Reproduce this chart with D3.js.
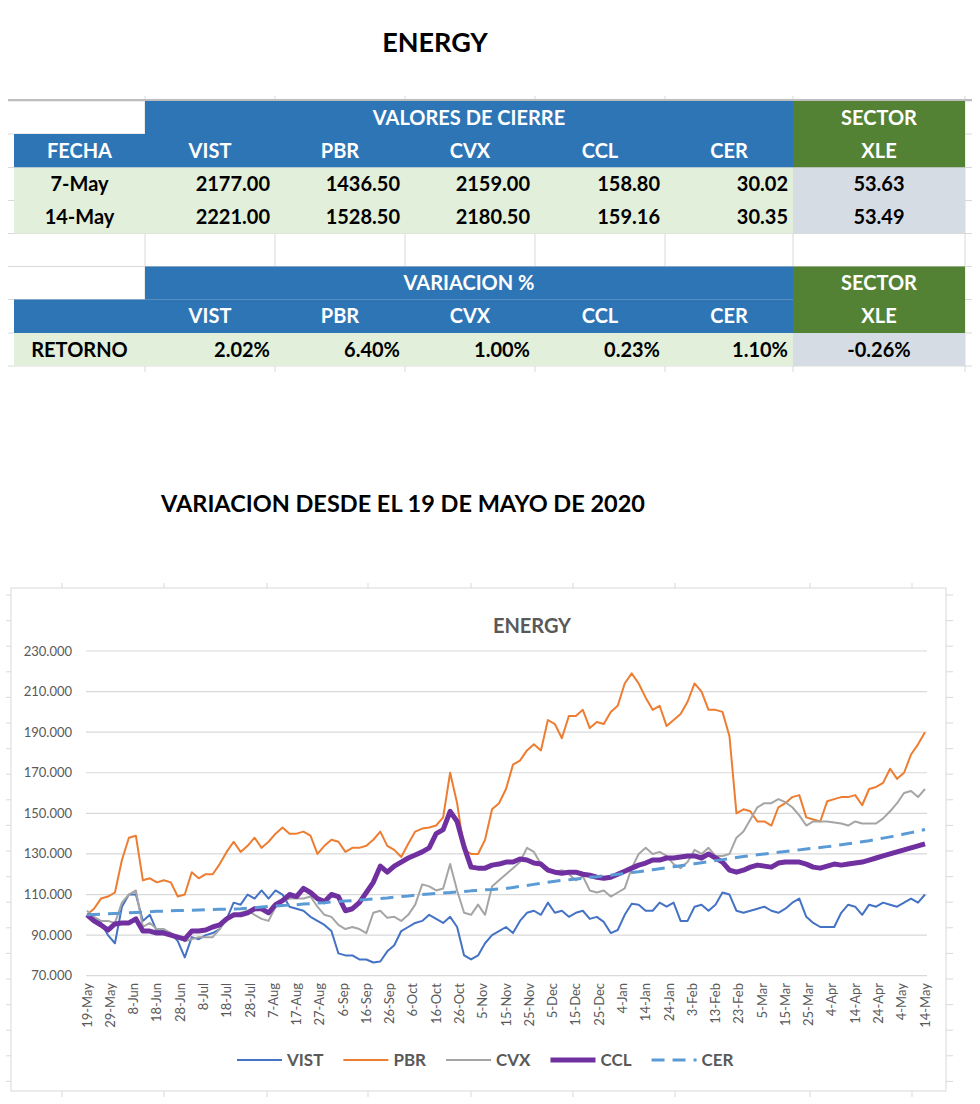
<!DOCTYPE html>
<html><head><meta charset="utf-8">
<script src="https://cdn.jsdelivr.net/npm/d3@7"></script>
<style>body{margin:0;background:#fff} svg{display:block;font-family:Lato,"Open Sans",sans-serif}</style>
</head><body><svg id="c" width="980" height="1104"></svg>
<script>
// ---------- TABLE DATA ----------
const tickers = ["VIST","PBR","CVX","CCL","CER"];
const fechas = ["7-May","14-May"];
const cierre7 = [2177.00,1436.50,2159.00,158.80,30.02];
const cierre14 = [2221.00,1528.50,2180.50,159.16,30.35];
const xleCierre = [53.63,53.49];
const retornos = [2.02,6.40,1.00,0.23,1.10];
const xleRetorno = -0.26;

// ---------- CHART DATA ----------
const dates = [
"2020-05-19","2020-05-22","2020-05-25","2020-05-28","2020-05-31",
"2020-06-03","2020-06-06","2020-06-09","2020-06-12","2020-06-15","2020-06-18","2020-06-21","2020-06-24","2020-06-27","2020-06-30",
"2020-07-03","2020-07-06","2020-07-09","2020-07-12","2020-07-15","2020-07-18","2020-07-21","2020-07-24","2020-07-27","2020-07-30",
"2020-08-02","2020-08-05","2020-08-08","2020-08-11","2020-08-14","2020-08-17","2020-08-20","2020-08-23","2020-08-26","2020-08-29",
"2020-09-01","2020-09-04","2020-09-07","2020-09-10","2020-09-13","2020-09-16","2020-09-19","2020-09-22","2020-09-25","2020-09-28",
"2020-10-01","2020-10-04","2020-10-07","2020-10-10","2020-10-13","2020-10-16","2020-10-19","2020-10-22","2020-10-25","2020-10-28","2020-10-31",
"2020-11-03","2020-11-06","2020-11-09","2020-11-12","2020-11-15","2020-11-18","2020-11-21","2020-11-24","2020-11-27","2020-11-30",
"2020-12-03","2020-12-06","2020-12-09","2020-12-12","2020-12-15","2020-12-18","2020-12-21","2020-12-24","2020-12-27","2020-12-30",
"2021-01-02","2021-01-05","2021-01-08","2021-01-11","2021-01-14","2021-01-17","2021-01-20","2021-01-23","2021-01-26","2021-01-29",
"2021-02-01","2021-02-04","2021-02-07","2021-02-10","2021-02-13","2021-02-16","2021-02-19","2021-02-22","2021-02-25","2021-02-28",
"2021-03-03","2021-03-06","2021-03-09","2021-03-12","2021-03-15","2021-03-18","2021-03-21","2021-03-24","2021-03-27","2021-03-30",
"2021-04-02","2021-04-05","2021-04-08","2021-04-11","2021-04-14","2021-04-17","2021-04-20","2021-04-23","2021-04-26","2021-04-29",
"2021-05-02","2021-05-05","2021-05-08","2021-05-11","2021-05-14"];

const vist = [
100,98,96,90,86,104,110,110,97,100,92,92,91,87,79,89,88,90,91,93,98,106,105,110,108,
112,108,112,110,104,103,102,99,97,95,92,81,80,80,78,78,76.5,77,82,85,92,94,96,97,
100,98,96,99,94,80,78,80,86,90,92,94,91,97,101,102,100,106,101,102,99,101,102,98,
99,96.5,91,92.5,100,105.5,105,102,102,106,104,106,97,97,104,105,102,105,111,110,102,101,102,103,
104,102,101,103,106,108,99,96,94,94,94,101,105,104,100,105,104,106,105,104,106,108,106,110];

const pbr = [
100,103,108,109,111,127,138,139,117,118,116,117,116,109,110,121,118,120,120,125,131,136,131,134,138,
133,136,140,143,140,140,141,139,130,134,137,136,131,133,133,134,137,141,134,132,128.5,135,141,142.5,
143,144,148,170,155,132,130,130,137,152,155,162,174,176,181,184,181,196,194,187,198,198,201,192,
195,194,200,203,214,219,214,207,201,203,193,196,199,205,214,210,201,201,200,188,150,152,151,146,
146,144,153,155,158,159,148,147,146,156,157,158,158,159,154,162,163,165,172,167,170,179,184,190];

const cvx = [
102,99,97,97,96,106,110,112,94,96,93,93,91,89,87,88,89,89,89,93,98,99,101,102,100,
98,97,104,106.5,108,108,108,109,104,100,99,95,93,94,93,91,101,102,98.5,99,97,100,105,115,
114,112,113,125,112,101,100,105,100,114,117,120,123,126,133,131,125,123,121,122,120,117,119,112,
111,112,109,111,113,123,130,133,130,131,129,125,123,126,132,130,133,129,129,130,138,141,147,153,
155,155,157,155.5,153,149,144,146,146,146,145.5,145,144,146,145,145,145,147.5,151,155,160,161,158,162];

const ccl = [
100,97,95,92.5,95.5,96,96,98,92,92,91,91,90,89,88,92,92,92.5,94,95,98,100,100,101,103,
103,101,105,107,110,109,113,111,108,106.5,110,109,102,103,106,111,116,124,121,124,126,128,129.5,131,
133,140,142,151,146,133.5,123.5,123,123,124.5,125,126,126,127.5,127,125.5,125,122,121,120.5,121,121,120,119.5,
118.5,118,118.5,120,121.5,123,124.5,125.5,127,127,128,128,128.5,129,129,128,130,128,126,122,121,122,123.5,124.5,
124,123.5,125.5,126,126,126,125,123.5,123,124,125,124.5,125,125.5,126,127,128,129,130,131,132,133,134,135];

const cer = [
100,100.2,100.3,100.5,100.7,100.8,101,101.2,101.3,101.5,101.7,101.8,102,102.1,102.2,102.3,102.4,102.5,102.6,102.7,102.8,102.9,103,103.2,103.5,
103.8,104.1,104.4,104.6,104.8,105,105.3,105.5,105.8,106,106.3,106.5,106.8,107,107.3,107.5,107.8,108,108.3,108.7,109,109.3,109.7,110,
110.3,110.5,110.8,111,111.3,111.5,111.8,112,112.3,112.5,112.8,113,113.5,114,114.5,115,115.5,116,116.5,117,117.3,117.7,118,118.5,
118.8,119.2,119.5,120,120.3,120.8,121.2,121.7,122.2,122.7,123.2,123.7,124.2,124.7,125.2,125.7,126.2,126.7,127.2,127.7,128.2,128.7,129.2,129.6,
130,130.4,130.8,131.2,131.6,132,132.4,132.8,133.2,133.6,134,134.5,135,135.5,136,136.5,137.2,137.8,138.4,139,139.8,140.5,141.2,142];

const yTicks = [70,90,110,130,150,170,190,210,230];
const xTickDates = ["2020-05-19","2020-05-29","2020-06-08","2020-06-18","2020-06-28","2020-07-08","2020-07-18","2020-07-28",
"2020-08-07","2020-08-17","2020-08-27","2020-09-06","2020-09-16","2020-09-26","2020-10-06","2020-10-16","2020-10-26",
"2020-11-05","2020-11-15","2020-11-25","2020-12-05","2020-12-15","2020-12-25","2021-01-04","2021-01-14","2021-01-24",
"2021-02-03","2021-02-13","2021-02-23","2021-03-05","2021-03-15","2021-03-25","2021-04-04","2021-04-14","2021-04-24",
"2021-05-04","2021-05-14"];

const seriesNames = ["VIST","PBR","CVX","CCL","CER"];
const seriesValues = [vist,pbr,cvx,ccl,cer];
const seriesColors = ["#4472C4","#ED7D31","#A5A5A5","#7030A0","#5B9BD5"];
const seriesWidths = [2,2,2,5,3];
const seriesDash = [null,null,null,null,"13,8"];

// ---------- DRAW ----------
const svg = d3.select("#c");
svg.append("rect").attr("width",980).attr("height",1104).attr("fill","#fff");

svg.append("text").attr("x",435).attr("y",52).attr("text-anchor","middle")
  .attr("font-weight",700).attr("font-size",27).attr("fill","#000").text("ENERGY");

// table: columns 0 = FECHA, 1..5 = tickers, 6 = XLE
const colX = [14,145,275,405,535,665,793,965];
const rowY = [101,134,167.5,200.5,233.5,266.5,299.5,333,366];
const BLUE="#2E75B6", GREEN="#548235", LGREEN="#E2EFDA", GRAYB="#D6DCE4";
const tg = svg.append("g");
rowY.forEach(y=>tg.append("line").attr("x1",8).attr("x2",972).attr("y1",y).attr("y2",y).attr("stroke","#D9D9D9"));
colX.slice(1).forEach(x=>tg.append("line").attr("x1",x).attr("x2",x).attr("y1",96).attr("y2",372).attr("stroke","#D9D9D9"));
tg.append("line").attr("x1",8).attr("x2",972).attr("y1",100).attr("y2",100).attr("stroke","#BDBDBD").attr("stroke-width",2);

function cell(c0,c1,r0,r1,fill){
  tg.append("rect").attr("x",colX[c0]).attr("y",rowY[r0]).attr("width",colX[c1]-colX[c0])
    .attr("height",rowY[r1]-rowY[r0]).attr("fill",fill);
}
cell(1,6,0,1,BLUE); cell(0,6,1,2,BLUE); cell(6,7,0,2,GREEN);
cell(0,6,2,4,LGREEN); cell(6,7,2,4,GRAYB);
cell(1,6,5,6,BLUE); cell(0,6,6,7,BLUE); cell(6,7,5,7,GREEN);
cell(0,6,7,8,LGREEN); cell(6,7,7,8,GRAYB);

const TF = 20;
function txt(x,r,s,anchor,fill){
  tg.append("text").attr("x",x).attr("y",(rowY[r]+rowY[r+1])/2+7).attr("text-anchor",anchor)
    .attr("font-weight",700).attr("font-size",TF).attr("fill",fill).text(s);
}
const cc = i=>(colX[i]+colX[i+1])/2;
const loc = d3.formatLocale({decimal:".",thousands:",",grouping:[3],currency:["$",""],minus:"-"});
const f2 = loc.format(".2f");
const midBlue = (colX[1]+colX[6])/2;
txt(midBlue,0,"VALORES DE CIERRE","middle","#fff");
txt(cc(6),0,"SECTOR","middle","#fff");
txt(cc(0),1,"FECHA","middle","#fff");
tickers.forEach((t,i)=>txt(cc(i+1),1,t,"middle","#fff"));
txt(cc(6),1,"XLE","middle","#fff");
[cierre7,cierre14].forEach((row,ri)=>{
  txt(cc(0),2+ri,fechas[ri],"middle","#000");
  row.forEach((v,i)=>txt(colX[i+2]-5,2+ri,f2(v),"end","#000"));
  txt(cc(6),2+ri,f2(xleCierre[ri]),"middle","#000");
});
txt(midBlue,5,"VARIACION %","middle","#fff");
txt(cc(6),5,"SECTOR","middle","#fff");
tickers.forEach((t,i)=>txt(cc(i+1),6,t,"middle","#fff"));
txt(cc(6),6,"XLE","middle","#fff");
txt(cc(0),7,"RETORNO","middle","#000");
retornos.forEach((v,i)=>txt(colX[i+2]-5,7,f2(v)+"%","end","#000"));
txt(cc(6),7,f2(xleRetorno)+"%","middle","#000");

// subtitle
svg.append("text").attr("x",403).attr("y",512).attr("text-anchor","middle")
  .attr("font-weight",700).attr("font-size",23.5).attr("fill","#000").text("VARIACION DESDE EL 19 DE MAYO DE 2020");

// chart frame + sheet ticks
const fg = svg.append("g").attr("stroke","#D9D9D9");
[62,164,267,368,471,573,675,810,912].forEach(x=>{
  fg.append("line").attr("x1",x).attr("x2",x).attr("y1",583).attr("y2",588);
  fg.append("line").attr("x1",x).attr("x2",x).attr("y1",1091).attr("y2",1097);
});
d3.range(0,20).forEach(k=>{
  const yy = 595+25.6*k;
  if (yy>1088) return;
  fg.append("line").attr("x1",6).attr("x2",11).attr("y1",yy).attr("y2",yy);
  fg.append("line").attr("x1",946).attr("x2",953).attr("y1",yy).attr("y2",yy);
});
svg.append("rect").attr("x",11).attr("y",588).attr("width",935).attr("height",503)
  .attr("fill","#fff").attr("stroke","#D9D9D9");

svg.append("text").attr("x",532).attr("y",633).attr("text-anchor","middle")
  .attr("font-weight",700).attr("font-size",20).attr("fill","#595959").text("ENERGY");

const parse = d3.timeParse("%Y-%m-%d");
const x = d3.scaleTime().domain([parse(dates[0]),parse(dates[dates.length-1])]).range([87,925]);
const y = d3.scaleLinear().domain([70,230]).range([975.7,651]);

const gy = svg.append("g");
yTicks.forEach(t=>{
  gy.append("line").attr("x1",86).attr("x2",927).attr("y1",y(t)).attr("y2",y(t)).attr("stroke","#D9D9D9").attr("stroke-width",1.2);
  gy.append("text").attr("x",72).attr("y",y(t)).attr("dy","0.35em").attr("text-anchor","end")
    .attr("font-size",13).attr("fill","#595959").text(d3.format(".3f")(t));
});
const fmt = d3.timeFormat("%-d-%b");
xTickDates.forEach(s=>{
  const d = parse(s);
  svg.append("text").attr("transform",`translate(${x(d)},983) rotate(-90)`).attr("text-anchor","end")
    .attr("dy","0.35em").attr("font-size",13).attr("fill","#595959").text(fmt(d));
});

const pts = dates.map(parse);
const line = d3.line().x(d=>x(d[0])).y(d=>y(d[1]));
seriesValues.forEach((vals,i)=>{
  svg.append("path").datum(pts.map((d,j)=>[d,vals[j]])).attr("d",line).attr("fill","none")
    .attr("stroke",seriesColors[i]).attr("stroke-width",seriesWidths[i])
    .attr("stroke-linejoin","round").attr("stroke-dasharray",seriesDash[i]);
});

// legend
const lg = svg.append("g");
let lx = 237; const ly = 1060;
seriesNames.forEach((n,i)=>{
  lg.append("line").attr("x1",lx).attr("x2",lx+45).attr("y1",ly).attr("y2",ly)
    .attr("stroke",seriesColors[i]).attr("stroke-width",seriesWidths[i]).attr("stroke-dasharray",seriesDash[i]);
  const t = lg.append("text").attr("x",lx+50).attr("y",ly).attr("dy","0.35em").attr("font-weight",700)
    .attr("font-size",17).attr("fill","#595959").text(n);
  lx += 50 + t.node().getComputedTextLength() + 20;
});
</script></body></html>
